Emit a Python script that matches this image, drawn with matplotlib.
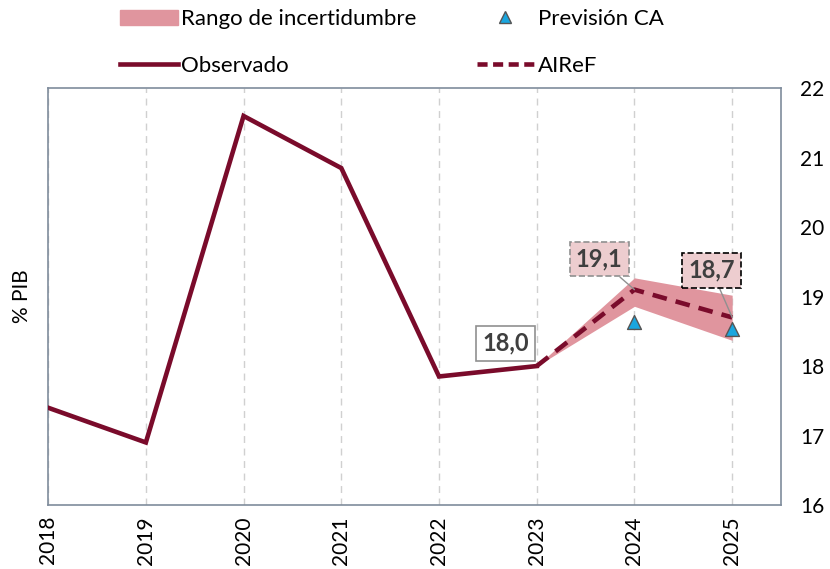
import numpy as np
import matplotlib.pyplot as plt
from matplotlib.patches import Patch
from matplotlib.lines import Line2D

plt.rcParams['font.family'] = ['Lato', 'DejaVu Sans']

years_obs = [2018, 2019, 2020, 2021, 2022, 2023]
observado = [17.4, 16.9, 21.6, 20.85, 17.85, 18.0]

years_fc = [2023, 2024, 2025]
airef = [18.0, 19.1, 18.7]
rango_low = [18.0, 18.86, 18.37]
rango_high = [18.0, 19.27, 19.02]

years_ca = [2024, 2025]
prevision_ca = [18.63, 18.53]

c_line = '#7A0B2B'
c_band = '#E0959E'
c_tri = '#1AA6DF'
c_frame = '#7F8C9C'

fig = plt.figure(figsize=(8.3, 5.69), dpi=100)
ax = fig.add_axes([0.058, 0.1125, 0.883, 0.7325])

ax.fill_between(years_fc, rango_low, rango_high, color=c_band, lw=0, zorder=2)
ax.plot(years_obs, observado, color=c_line, lw=3.3, zorder=3, solid_joinstyle='miter')
ax.plot(years_fc, airef, color=c_line, lw=3.3, ls=(0, (3.2, 2)), zorder=4)
ax.scatter(years_ca, prevision_ca, marker='^', s=100, color=c_tri,
           edgecolor='#555555', linewidth=1, zorder=5)

ax.set_xlim(2018, 2025.5)
ax.set_ylim(16, 22)
ax.set_xticks(range(2018, 2026))
ax.set_xticklabels([str(y) for y in range(2018, 2026)], rotation=90, fontsize=15)
ax.yaxis.tick_right()
ax.set_yticks(range(16, 23))
ax.tick_params(axis='y', labelsize=15, length=0, pad=14)
ax.tick_params(axis='x', length=0, pad=8)
ax.set_ylabel('% PIB', fontsize=15)
ax.yaxis.set_label_position('left')
ax.yaxis.set_label_coords(-0.022, 0.5)
ax.grid(axis='x', color='#D0D0D0', ls=(0, (5, 4)), lw=1)
for s in ax.spines.values():
    s.set_color(c_frame)
    s.set_linewidth(1.2)

# etiquetas de valores
lab = dict(ha='center', va='center', fontsize=17, fontweight='bold', color='#3F3F3F', zorder=6)
ax.annotate('18,0', xy=(2023, 18.0), xytext=(2022.68, 18.33),
            bbox=dict(boxstyle='square,pad=0.25', fc='white', ec='#909090', lw=1.2), **lab)
ax.annotate('19,1', xy=(2024, 19.1), xytext=(2023.64, 19.54),
            bbox=dict(boxstyle='square,pad=0.25', fc='#EDCDCF', ec='#909090', lw=1.2, ls='--'),
            arrowprops=dict(arrowstyle='-', color='#909090', lw=1, shrinkA=0, shrinkB=0), **lab)
ax.annotate('18,7', xy=(2025, 18.7), xytext=(2024.79, 19.38),
            bbox=dict(boxstyle='square,pad=0.25', fc='#EDCDCF', ec='black', lw=1.2, ls='--'),
            arrowprops=dict(arrowstyle='-', color='#909090', lw=1, shrinkA=0, shrinkB=0), **lab)

# leyenda (orden por columnas)
handles = [Patch(color=c_band),
           Line2D([], [], color=c_line, lw=3.3),
           Line2D([], [], marker='^', ls='none', color=c_tri, markeredgecolor='#555555', markersize=8),
           Line2D([], [], color=c_line, lw=3.3, ls=(0, (2.2, 1.2)))]
labels = ['Rango de incertidumbre', 'Observado', 'Previsión CA', 'AIReF']
fig.legend(handles, labels, ncol=2, loc='upper left', bbox_to_anchor=(0.1446, 0.984),
           frameon=False, fontsize=16, handlelength=2.6, handletextpad=0.15,
           columnspacing=2.7, labelspacing=1.2, borderpad=0, borderaxespad=0)

fig.savefig('out.png', dpi=100)
